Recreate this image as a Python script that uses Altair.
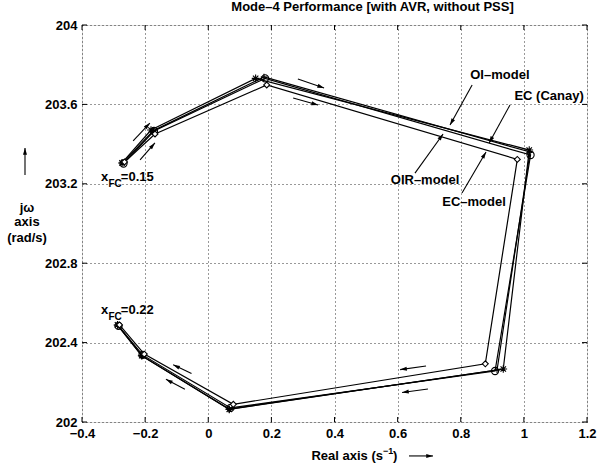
import math
import altair as alt
import pandas as pd

FONT = "Liberation Sans"

# ---------------- data ----------------
X_MIN, X_MAX = -0.4, 1.2
Y_MIN, Y_MAX = 202.0, 204.0
W, H = 505, 397

x_ticks = [-0.4, -0.2, 0, 0.2, 0.4, 0.6, 0.8, 1, 1.2]
y_ticks = [202, 202.4, 202.8, 203.2, 203.6, 204]

models = ["OI-model", "EC (Canay)", "OIR-model", "EC-model"]
oi_x = [-0.2733, -0.1814, 0.1501, 1.0170, 0.9347, 0.0667, -0.2108, -0.2875]
oi_y = [203.305, 203.471, 203.731, 203.370, 202.267, 202.064, 202.334, 202.489]
canay_x = [-0.2685, -0.1720, 0.1800, 1.0212, 0.9087, 0.0706, -0.2083, -0.2843]
canay_y = [203.302, 203.466, 203.731, 203.345, 202.257, 202.071, 202.338, 202.484]
oir_x = [-0.2700, -0.1736, 0.1766, 1.0196, 0.9150, 0.0658, -0.2100, -0.2860]
oir_y = [203.307, 203.468, 203.738, 203.360, 202.262, 202.065, 202.333, 202.484]
ecm_x = [-0.2653, -0.1687, 0.1853, 0.9792, 0.8778, 0.0794, -0.2026, -0.2812]
ecm_y = [203.310, 203.451, 203.698, 203.323, 202.293, 202.089, 202.342, 202.489]

# annotation labels (data coordinates)
label_text = ["OI–model", "EC (Canay)", "OIR–model", "EC–model"]
label_x = [0.924, 1.080, 0.687, 0.842]
label_y = [203.748, 203.642, 203.219, 203.108]

# annotation arrows: start -> tip
ann_x1 = [0.836, 0.956, 0.655, 0.804]
ann_y1 = [203.698, 203.597, 203.254, 203.154]
ann_x2 = [0.766, 0.890, 0.744, 0.880]
ann_y2 = [203.496, 203.406, 203.451, 203.360]

# direction arrows along the loci
dir_x1 = [-0.238, -0.216, 0.284, 0.269, 0.690, 0.696, -0.053, -0.074]
dir_y1 = [203.416, 203.320, 203.728, 203.632, 202.282, 202.166, 202.244, 202.165]
dir_x2 = [-0.185, -0.169, 0.367, 0.348, 0.608, 0.614, -0.111, -0.134]
dir_y2 = [203.506, 203.406, 203.683, 203.597, 202.264, 202.149, 202.288, 202.215]

# x_FC labels
xfc_values = ["=0.15", "=0.22"]
xfc_x = [-0.340, -0.340]
xfc_y = [203.234, 202.564]

# ---------------- tables ----------------
series = [(oi_x, oi_y), (canay_x, canay_y), (oir_x, oir_y), (ecm_x, ecm_y)]
rows = []
for m, (xs_, ys_) in zip(models, series):
    for i, (a, b) in enumerate(zip(xs_, ys_)):
        rows.append(dict(model=m, step=i, x=a, y=b))
df = pd.DataFrame(rows)

KX = W / (X_MAX - X_MIN)
KY = H / (Y_MAX - Y_MIN)


def heading(x1, y1, x2, y2):
    return math.degrees(math.atan2((x2 - x1) * KX, (y2 - y1) * KY)) % 360


arrows = []
for a in zip(ann_x1, ann_y1, ann_x2, ann_y2):
    arrows.append(dict(x=a[0], y=a[1], x2=a[2], y2=a[3], ang=heading(*a)))
for a in zip(dir_x1, dir_y1, dir_x2, dir_y2):
    arrows.append(dict(x=a[0], y=a[1], x2=a[2], y2=a[3], ang=heading(*a)))
# axis-title arrows
ax_arrows = [(-0.5806, 203.244, -0.5806, 203.380), (0.636, 201.829, 0.712, 201.829)]
for a in ax_arrows:
    arrows.append(dict(x=a[0], y=a[1], x2=a[2], y2=a[3], ang=heading(*a)))
arr_df = pd.DataFrame(arrows)

texts = []
for t, a, b in zip(label_text, label_x, label_y):
    texts.append(dict(t=t, x=a, y=b, s=13, al="center"))
for v, a, b in zip(xfc_values, xfc_x, xfc_y):
    texts.append(dict(t="x", x=a, y=b, s=13, al="left"))
    texts.append(dict(t="FC", x=a + 0.024, y=b - 0.036, s=10, al="left"))
    texts.append(dict(t=v, x=a + 0.063, y=b, s=13, al="left"))
# y-axis title
texts += [
    dict(t="jω", x=-0.5743, y=203.078, s=13, al="center"),
    dict(t="axis", x=-0.5743, y=203.008, s=13, al="center"),
    dict(t="(rad/s)", x=-0.5743, y=202.927, s=13, al="center"),
]
# x-axis title
texts += [
    dict(t="Real axis (s", x=0.5537, y=201.829, s=13, al="right"),
    dict(t="−1", x=0.5537, y=201.856, s=9, al="left"),
    dict(t=")", x=0.5854, y=201.829, s=13, al="left"),
]
txt_df = pd.DataFrame(texts)

# inward tick marks
tl_x = 5 / KX
tl_y = 5 / KY
ticks = []
for v in x_ticks:
    ticks.append(dict(x=v, y=Y_MIN, x2=v, y2=Y_MIN + tl_y))
    ticks.append(dict(x=v, y=Y_MAX, x2=v, y2=Y_MAX - tl_y))
for v in y_ticks:
    ticks.append(dict(x=X_MIN, y=v, x2=X_MIN + tl_x, y2=v))
    ticks.append(dict(x=X_MAX, y=v, x2=X_MAX - tl_x, y2=v))
tick_df = pd.DataFrame(ticks)

# ---------------- chart ----------------
xs = alt.Scale(domain=[X_MIN, X_MAX], nice=False, zero=False)
ys = alt.Scale(domain=[Y_MIN, Y_MAX], nice=False, zero=False)
common_axis = dict(grid=True, gridDash=[1, 3], gridColor="black", gridOpacity=0.8,
                   gridWidth=1, ticks=False, domain=False, labelFont=FONT,
                   labelFontSize=13, labelFontWeight="bold", labelColor="black",
                   labelPadding=5, title=None, labelExpr="format(datum.value, '~g')")
x_axis = alt.Axis(values=x_ticks, labelFlush=False, **common_axis)
y_axis = alt.Axis(values=y_ticks, labelFlush=False, **common_axis)


def X(f="x"):
    return alt.X(f + ":Q", scale=xs, axis=x_axis)


def Y(f="y"):
    return alt.Y(f + ":Q", scale=ys, axis=y_axis)


lines = alt.Chart(df).mark_line(color="black", strokeWidth=1.2).encode(
    x=X(), y=Y(), detail="model:N", order="step:Q")

star = "M-1,0L1,0M0,-1L0,1M-0.7,-0.7L0.7,0.7M-0.7,0.7L0.7,-0.7"
plus = "M-1,0L1,0M0,-1L0,1"
points = alt.Chart(df).mark_point(filled=True, stroke="black",
                                  strokeWidth=1.1, opacity=1).encode(
    x=X(), y=Y(),
    shape=alt.Shape("model:N", scale=alt.Scale(domain=models,
                    range=[star, "circle", plus, "diamond"]), legend=None),
    fill=alt.Fill("model:N", scale=alt.Scale(domain=models,
                  range=["transparent", "transparent", "transparent", "white"]),
                  legend=None),
    size=alt.Size("model:N", scale=alt.Scale(domain=models, range=[60, 35, 50, 45]),
                  legend=None))

tick_rules = alt.Chart(tick_df).mark_rule(color="black", strokeWidth=1).encode(
    x=X(), y=Y(), x2="x2:Q", y2="y2:Q")

shafts = alt.Chart(arr_df).mark_rule(color="black", strokeWidth=1.1).encode(
    x=X(), y=Y(), x2="x2:Q", y2="y2:Q")
head = "M0,0L-0.6,2L0.6,2Z"
heads = alt.Chart(arr_df).mark_point(shape=head, filled=True, color="black",
                                     size=45, opacity=1).encode(
    x=X("x2"), y=Y("y2"), angle=alt.Angle("ang:Q", scale=None))


def text_layer(al):
    return alt.Chart(txt_df).transform_filter(alt.datum.al == al).mark_text(
        font=FONT, fontWeight="bold", color="black", baseline="middle", align=al
    ).encode(x=X(), y=Y(), text="t:N", size=alt.Size("s:Q", scale=None))


chart = alt.layer(lines, tick_rules, shafts, heads, points,
                  text_layer("left"), text_layer("center"), text_layer("right")).properties(
    width=W, height=H,
    title=alt.TitleParams("Mode–4 Performance [with AVR, without PSS]", font=FONT,
                          fontSize=13, fontWeight="bold", color="black",
                          anchor="middle", dx=38, offset=5),
    autosize=alt.AutoSizeParams(type="none"),
    padding={"left": 82, "top": 25, "right": 11, "bottom": 47},
).configure_view(stroke="black", strokeWidth=1).configure(background="white")

chart.save("out.html", embed_options={"renderer": "svg", "actions": False})
